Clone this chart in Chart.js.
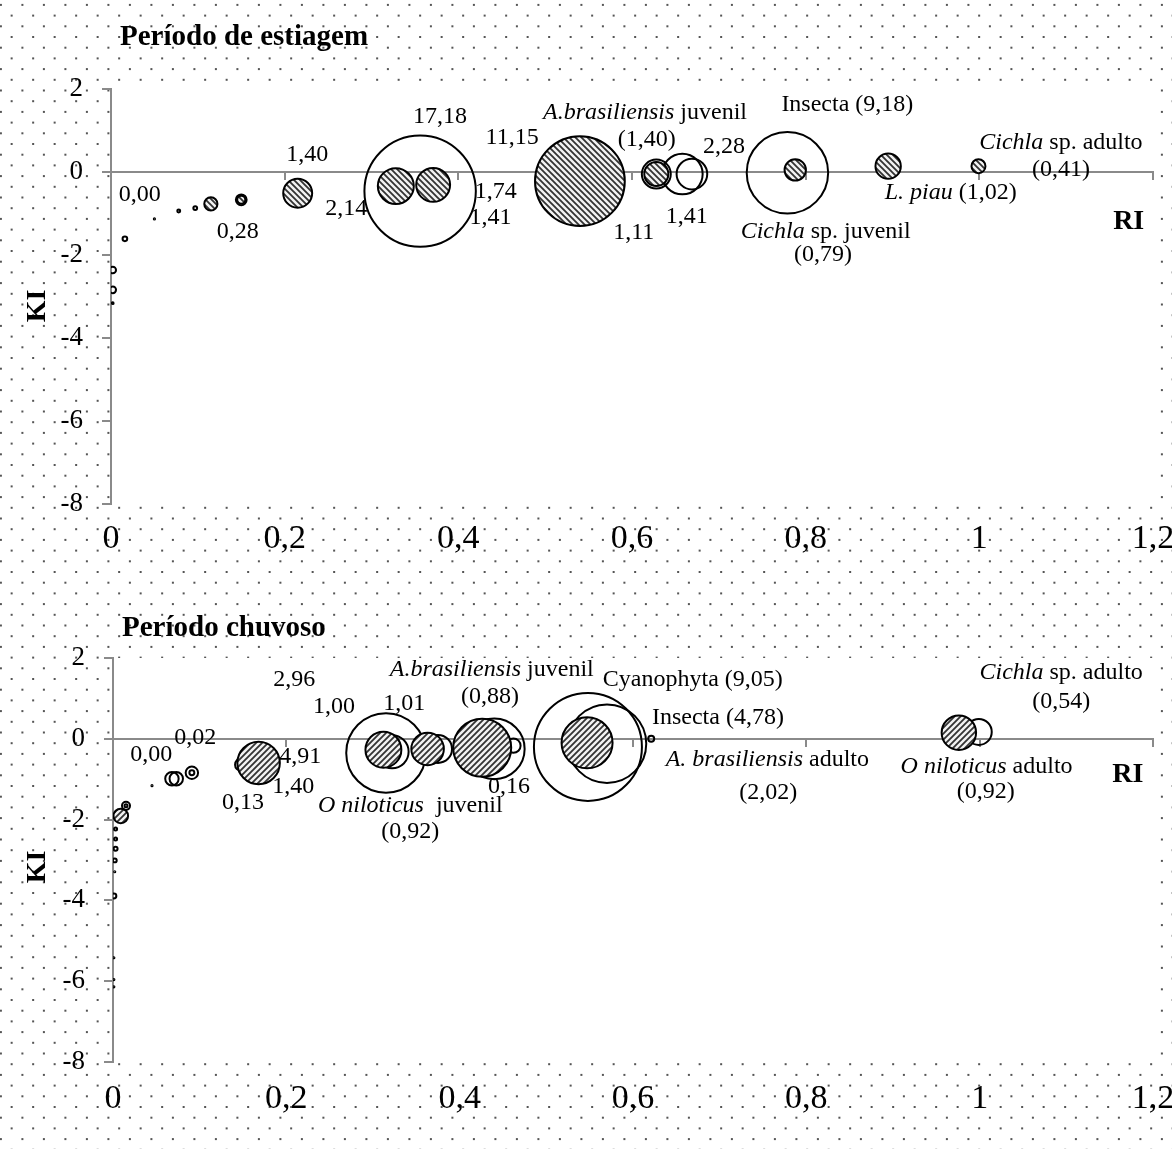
<!DOCTYPE html>
<html>
<head>
<meta charset="utf-8">
<script src="https://cdn.jsdelivr.net/npm/chart.js@4.4.1/dist/chart.umd.min.js"></script>
<style>
  html, body { margin: 0; padding: 0; background: #fff; }
  body { width: 1172px; height: 1149px; position: relative; overflow: hidden; }
  canvas { position: absolute; left: 0; }
  #dry { top: 0; }
  #wet { top: 585px; }
</style>
</head>
<body>
<canvas id="dry" width="1172" height="585"></canvas>
<canvas id="wet" width="1172" height="564"></canvas>
<script>
const xTicks = [0, 0.2, 0.4, 0.6, 0.8, 1, 1.2];
const xTickLabels = ['0', '0,2', '0,4', '0,6', '0,8', '1', '1,2'];
const yTicks = [-8, -6, -4, -2, 0, 2];
const yTickLabels = ['-8', '-6', '-4', '-2', '0', '2'];

// Período de estiagem - open bubbles
const dryOpenRI   = [0.356, 0.628, 0.658, 0.669, 0.779, 0.016, 0.050, 0.078, 0.097, 0.150, 0.002, 0.002, 0.002];
const dryOpenKI   = [-0.46, -0.05, -0.05, -0.05, -0.02, -1.61, -1.13, -0.94, -0.87, -0.67, -2.36, -2.84, -3.16];
const dryOpenSize = [17.18, 1.16, 2.28, 1.30, 9.18, 0.03, 0.002, 0.012, 0.02, 0.16, 0.06, 0.06, 0.004];
// Período de estiagem - hatched bubbles
const dryFillRI   = [0.115, 0.150, 0.215, 0.328, 0.371, 0.540, 0.628, 0.788, 0.895, 0.999];
const dryFillKI   = [-0.77, -0.67, -0.51, -0.34, -0.31, -0.22, -0.05, 0.05, 0.14, 0.14];
const dryFillSize = [0.24, 0.09, 1.16, 1.79, 1.59, 11.15, 0.80, 0.63, 0.89, 0.27];

// Período chuvoso - open bubbles
const wetOpenRI   = [0.315, 0.322, 0.375, 0.440, 0.462, 0.548, 0.570, 0.621, 0.999, 0.148, 0.068, 0.073, 0.091, 0.091, 0.045, 0.015, 0.015,
                     0.003, 0.003, 0.003, 0.002, 0.002, 0.001, 0.001, 0.001, 0.001];
const wetOpenKI   = [-0.35, -0.32, -0.25, -0.25, -0.17, -0.20, -0.12, 0.00, 0.17, -0.64, -0.99, -0.99, -0.84, -0.84, -1.16, -1.66, -1.66,
                     -2.23, -2.48, -2.72, -3.01, -3.29, -3.89, -5.42, -5.96, -6.14];
const wetOpenSize = [4.91, 0.85, 0.61, 2.85, 0.16, 9.05, 4.78, 0.028, 0.52, 0.12, 0.14, 0.14, 0.12, 0.019, 0.001, 0.05, 0.007,
                     0.007, 0.007, 0.012, 0.012, 0.001, 0.019, 0.001, 0.001, 0.001];
// Período chuvoso - hatched bubbles
const wetFillRI   = [0.009, 0.168, 0.312, 0.363, 0.426, 0.547, 0.976];
const wetFillKI   = [-1.91, -0.60, -0.27, -0.25, -0.22, -0.10, 0.15];
const wetFillSize = [0.165, 1.40, 1.00, 0.82, 2.61, 2.02, 0.92];

// text notes, placed in RI/KI units
const dryNotes = [
  ['0,00', 0.033, -0.55], ['0,28', 0.146, -1.45], ['1,40', 0.226, 0.41], ['2,14', 0.271, -0.89],
  ['17,18', 0.379, 1.33], ['11,15', 0.462, 0.82], ['1,74', 0.443, -0.48], ['1,41', 0.437, -1.11],
  [[['A.brasiliensis', 1], [' juvenil', 0]], 0.615, 1.42], ['(1,40)', 0.617, 0.77], ['2,28', 0.706, 0.60],
  ['1,11', 0.602, -1.47], ['1,41', 0.663, -1.08], ['Insecta (9,18)', 0.848, 1.61],
  [[['Cichla', 1], [' sp. juvenil', 0]], 0.823, -1.45], ['(0,79)', 0.82, -2.0],
  [[['L. piau', 1], [' (1,02)', 0]], 0.967, -0.5],
  [[['Cichla', 1], [' sp. adulto', 0]], 1.094, 0.70], ['(0,41)', 1.094, 0.05]
];
const wetNotes = [
  ['2,96', 0.209, 1.46], ['1,00', 0.255, 0.79], ['1,01', 0.336, 0.87], ['0,00', 0.044, -0.40],
  ['0,02', 0.095, 0.02], ['4,91', 0.216, -0.45], ['1,40', 0.208, -1.19], ['0,13', 0.150, -1.58],
  [[['O niloticus', 1], ['  juvenil', 0]], 0.343, -1.66], ['(0,92)', 0.343, -2.30],
  [[['A.brasiliensis', 1], [' juvenil', 0]], 0.437, 1.71], ['(0,88)', 0.435, 1.04], ['0,16', 0.457, -1.19],
  ['Cyanophyta (9,05)', 0.669, 1.46], ['Insecta (4,78)', 0.698, 0.52],
  [[['A. brasiliensis', 1], [' adulto', 0]], 0.755, -0.52], ['(2,02)', 0.756, -1.34],
  [[['O niloticus', 1], [' adulto', 0]], 1.008, -0.69], ['(0,92)', 1.007, -1.31],
  [[['Cichla', 1], [' sp. adulto', 0]], 1.094, 1.63], ['(0,54)', 1.094, 0.92]
];

const FONT = '"Liberation Serif", "Times New Roman", serif';
const AXIS = '#8a8a8a';

function hatch(dir) {
  const t = 6;
  const c = document.createElement('canvas');
  c.width = c.height = t;
  const g = c.getContext('2d');
  g.fillStyle = '#f2f2f2';
  g.fillRect(0, 0, t, t);
  g.strokeStyle = '#333';
  g.lineWidth = 1.8;
  g.beginPath();
  if (dir > 0) {
    g.moveTo(-1, -1); g.lineTo(t + 1, t + 1);
    g.moveTo(-1, t - 1); g.lineTo(1, t + 1);
    g.moveTo(t - 1, -1); g.lineTo(t + 1, 1);
  } else {
    g.moveTo(-1, t + 1); g.lineTo(t + 1, -1);
    g.moveTo(-1, 1); g.lineTo(1, -1);
    g.moveTo(t - 1, t + 1); g.lineTo(t + 1, t - 1);
  }
  g.stroke();
  return g.createPattern(c, 'repeat');
}

function drawText(ctx, parts, cx, cy, size, bold) {
  if (typeof parts === 'string') parts = [[parts, 0]];
  const f = (it) => (it ? 'italic ' : '') + (bold ? 'bold ' : '') + size + 'px ' + FONT;
  let w = 0;
  parts.forEach(p => { ctx.font = f(p[1]); w += ctx.measureText(p[0]).width; });
  let x = cx - w / 2;
  ctx.textAlign = 'left';
  ctx.textBaseline = 'middle';
  ctx.fillStyle = '#000';
  parts.forEach(p => { ctx.font = f(p[1]); ctx.fillText(p[0], x, cy); x += ctx.measureText(p[0]).width; });
}

const decor = {
  id: 'decor',
  beforeDraw(chart, args, o) {
    const {ctx, chartArea: a} = chart;
    ctx.save();
    ctx.fillStyle = '#555';
    for (let j = -2; j < 120; j++) {
      const y = 4.9 + 10.7 * j - o.offsetY;
      if (y < -3 || y > chart.height + 3) continue;
      const odd = ((j % 2) + 2) % 2;
      for (let x = 0.9 + (odd ? 10.75 : 0); x < chart.width + 3; x += 21.5) {
        ctx.fillRect(x - 1, y - 1, 2, 2);
      }
    }
    ctx.fillStyle = '#fff';
    ctx.fillRect(a.left, a.top, a.right - a.left, a.bottom - a.top);
    ctx.restore();
  },
  afterDatasetsDraw(chart, args, o) {
    const {ctx, chartArea: a, scales} = chart;
    ctx.save();
    o.notes.forEach(n => drawText(ctx, n[0], scales.x.getPixelForValue(n[1]), scales.y.getPixelForValue(n[2]), 24, false));
    drawText(ctx, 'RI', scales.x.getPixelForValue(o.riAt[0]), scales.y.getPixelForValue(o.riAt[1]), 28, true);
    ctx.font = 'bold 29px ' + FONT;
    ctx.textAlign = 'left';
    ctx.textBaseline = 'middle';
    ctx.fillText(o.title, a.left + 9, a.top + o.titleDy);
    ctx.translate(38, a.top + o.kiDy);
    ctx.rotate(-Math.PI / 2);
    drawText(ctx, 'KI', 0, 0, 28, true);
    ctx.restore();
  }
};

function noPad(s) {
  s.paddingLeft = 0; s.paddingRight = 0; s.paddingTop = 0; s.paddingBottom = 0;
}

function makeChart(id, c) {
  const toPts = (xs, ys, ss) => xs.map((x, i) => ({x: x, y: ys[i], r: c.k * Math.sqrt(ss[i])}));
  const setX = s => { s.ticks = xTicks.map(v => ({value: v})); };
  return new Chart(document.getElementById(id), {
    type: 'bubble',
    data: {
      datasets: [
        {
          label: 'hatched',
          data: toPts(c.fill[0], c.fill[1], c.fill[2]),
          backgroundColor: hatch(c.dir),
          borderColor: '#000',
          borderWidth: 2
        },
        {
          label: 'open',
          data: toPts(c.open[0], c.open[1], c.open[2]),
          backgroundColor: 'rgba(0,0,0,0)',
          borderColor: '#000',
          borderWidth: 2
        }
      ]
    },
    options: {
      responsive: false,
      animation: false,
      events: [],
      layout: { autoPadding: false, padding: { top: c.padTop, right: 19, left: 0, bottom: 0 } },
      plugins: {
        legend: { display: false },
        tooltip: { enabled: false },
        decor: { notes: c.notes, riAt: c.riAt, title: c.title, titleDy: c.titleDy, kiDy: c.kiDy, offsetY: c.offsetY }
      },
      scales: {
        x: {
          type: 'linear', position: 'bottom', min: 0, max: 1.2,
          afterBuildTicks: setX,
          afterFit: s => { s.height = c.xHeight; noPad(s); },
          border: { display: false },
          grid: { display: false, drawTicks: false },
          ticks: {
            padding: c.xPad, color: '#000', maxRotation: 0, autoSkip: false,
            font: { family: FONT, size: 34 },
            callback: (v) => xTickLabels[xTicks.indexOf(v)]
          }
        },
        x0: {
          type: 'linear', position: { y: 0 }, min: 0, max: 1.2,
          afterBuildTicks: setX,
          afterFit: noPad,
          border: { display: true, color: AXIS, width: 2 },
          grid: { drawOnChartArea: false, drawTicks: true, tickLength: 7, color: AXIS, lineWidth: 2 },
          ticks: { display: false }
        },
        y: {
          type: 'linear', position: 'left', min: -8, max: 2,
          afterBuildTicks: s => { s.ticks = yTicks.map(v => ({value: v})); },
          afterFit: s => { s.width = c.yWidth; noPad(s); },
          border: { display: true, color: AXIS, width: 2 },
          grid: { drawOnChartArea: false, drawTicks: true, tickLength: 9, color: AXIS, lineWidth: 2 },
          ticks: {
            padding: 19, color: '#000',
            font: { family: FONT, size: 27 },
            callback: (v) => yTickLabels[yTicks.indexOf(v)]
          }
        }
      }
    },
    plugins: [decor]
  });
}

makeChart('dry', {
  open: [dryOpenRI, dryOpenKI, dryOpenSize],
  fill: [dryFillRI, dryFillKI, dryFillSize],
  k: 13.44, dir: 1, notes: dryNotes, riAt: [1.172, -1.21],
  title: 'Período de estiagem', titleDy: -51, kiDy: 217,
  padTop: 89, yWidth: 111, xHeight: 81, xPad: 15, offsetY: 0
});

makeChart('wet', {
  open: [wetOpenRI, wetOpenKI, wetOpenSize],
  fill: [wetFillRI, wetFillKI, wetFillSize],
  k: 17.95, dir: -1, notes: wetNotes, riAt: [1.171, -0.89],
  title: 'Período chuvoso', titleDy: -29, kiDy: 209,
  padTop: 73, yWidth: 113, xHeight: 87, xPad: 17, offsetY: 585
});
</script>
</body>
</html>
